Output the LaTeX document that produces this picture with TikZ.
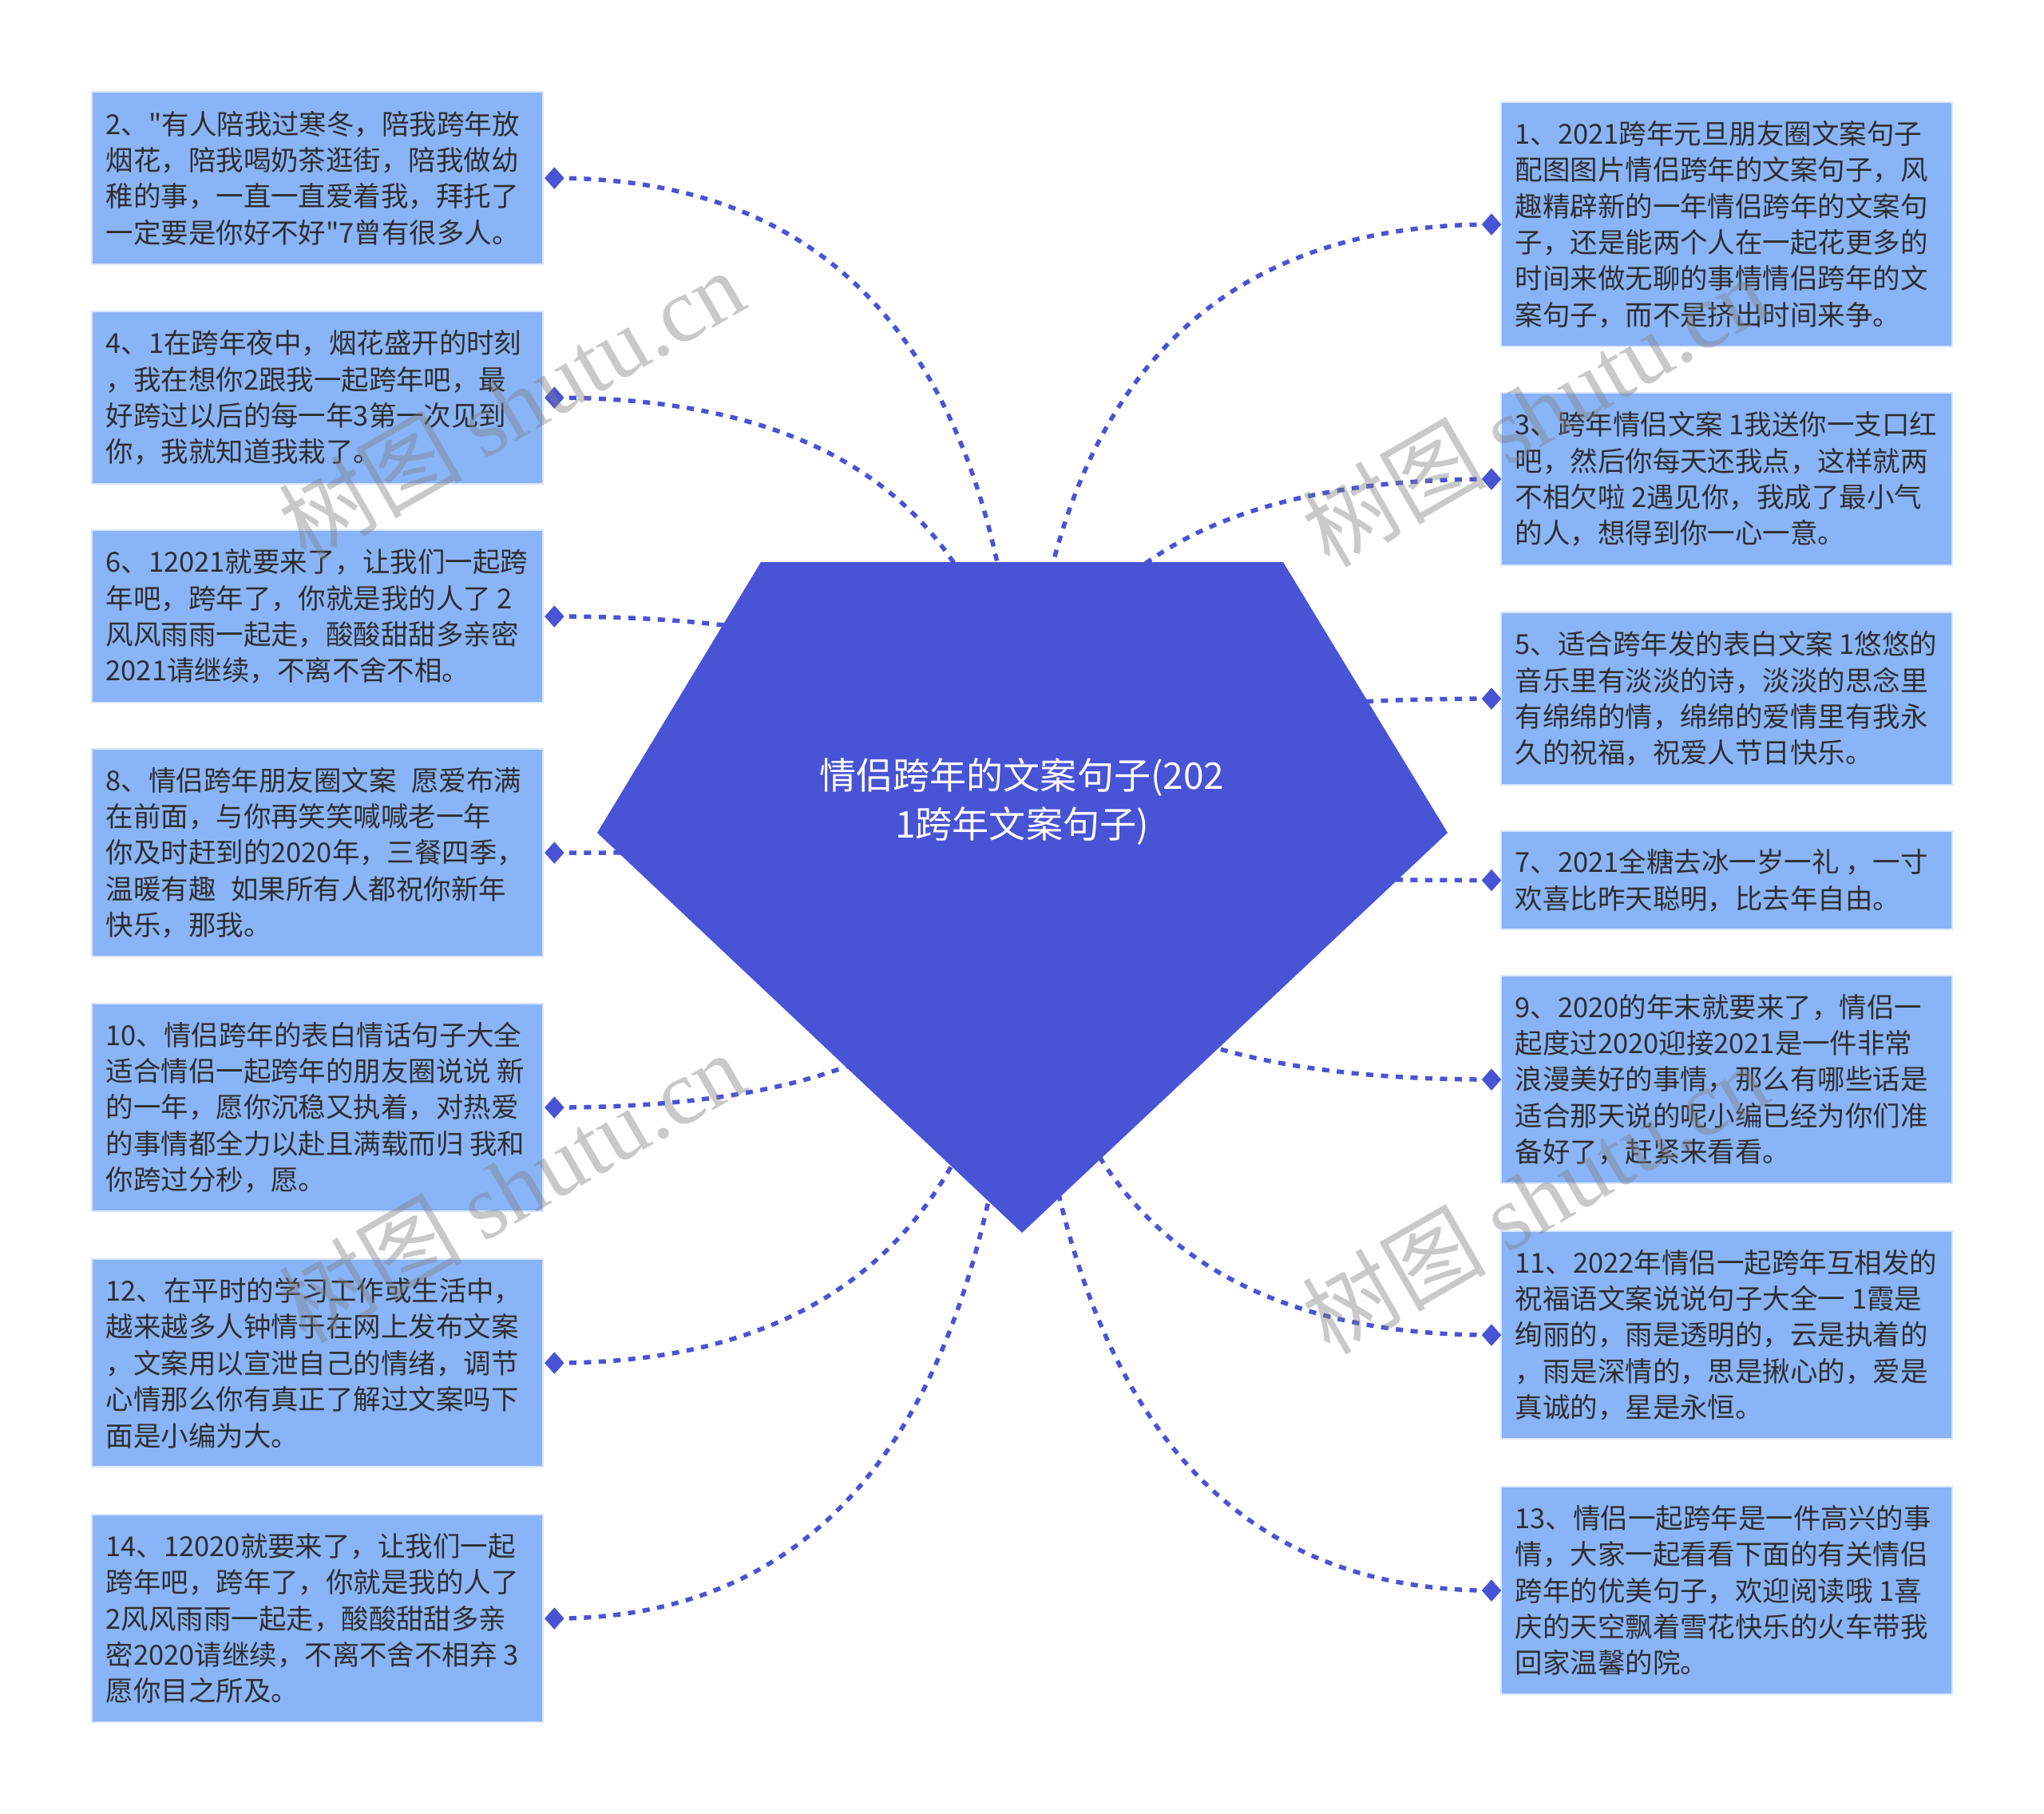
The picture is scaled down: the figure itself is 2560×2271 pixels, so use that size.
\documentclass[tikz,border=0pt]{standalone}
\usepackage{fontspec}
\setmainfont{Noto Sans CJK SC}[Ligatures=TeXOff]
\newfontfamily\wmserif{Liberation Serif}
\usetikzlibrary{shapes.misc,shapes.geometric,calc,backgrounds}
\definecolor{hubblue}{HTML}{4853D5}
\definecolor{boxblue}{HTML}{8AB4F8}
\definecolor{boxedge}{HTML}{D9E6FC}
\definecolor{txt}{HTML}{2E2E2E}
\begin{document}
\begin{tikzpicture}[x=0.01cm,y=-0.01cm,
  card/.style={chamfered rectangle, chamfered rectangle corners=north east,
    chamfered rectangle xsep=0.17cm, chamfered rectangle ysep=0.17cm,
    fill=boxblue, draw=boxedge, line width=0.02cm, inner sep=0pt,
    minimum width=5.65cm, anchor=north west},
  cardtext/.style={anchor=west, align=left, inner sep=0pt, text=txt,
    font=\fontsize{9.8pt}{12.9pt}\selectfont},
  tip/.style={diamond, fill=hubblue, inner sep=0pt, minimum width=0.25cm, minimum height=0.28cm},
  conn/.style={draw=hubblue, line width=0.055cm, dash pattern=on 0.09cm off 0.095cm},
  wm/.style={text=black!50, opacity=0.42, rotate=30, inner sep=0pt,
    font=\fontsize{32.7pt}{36pt}\selectfont}
]
\useasboundingbox (0,0) rectangle (2560,2271);
\coordinate (hub) at (1281,1043);

% central pentagon
\fill[hubblue] (953,704) -- (1607,704) -- (1813,1043) -- (1280,1544) -- (748,1043) -- cycle;
\node[text=white, align=center, inner sep=0pt, font=\fontsize{13.1pt}{17.6pt}\selectfont] (root) at (1280,1004) {情侣跨年的文案句子(202\\1跨年文案句子)};

% left column
\node[card, minimum height=2.16cm] (b2) at (114,114) {};
\node[cardtext] (t2) at ([xshift=0.18cm]b2.west) {2、"有人陪我过寒冬，陪我跨年放\\烟花，陪我喝奶茶逛街，陪我做幼\\稚的事，一直一直爱着我，拜托了\\一定要是你好不好"7曾有很多人。};
\node[card, minimum height=2.16cm] (b4) at (114,389) {};
\node[cardtext] (t4) at ([xshift=0.18cm]b4.west) {4、1在跨年夜中，烟花盛开的时刻\\，我在想你2跟我一起跨年吧，最\\好跨过以后的每一年3第一次见到\\你，我就知道我栽了。};
\node[card, minimum height=2.16cm] (b6) at (114,663) {};
\node[cardtext] (t6) at ([xshift=0.18cm]b6.west) {6、12021就要来了，让我们一起跨\\年吧，跨年了，你就是我的人了 2\\风风雨雨一起走，酸酸甜甜多亲密\\2021请继续，不离不舍不相。};
\node[card, minimum height=2.60cm] (b8) at (114,937) {};
\node[cardtext] (t8) at ([xshift=0.18cm]b8.west) {8、情侣跨年朋友圈文案\hspace{0.55em}愿爱布满\\在前面，与你再笑笑喊喊老一年\\你及时赶到的2020年，三餐四季，\\温暖有趣\hspace{0.55em}如果所有人都祝你新年\\快乐，那我。};
\node[card, minimum height=2.60cm] (b10) at (114,1256) {};
\node[cardtext] (t10) at ([xshift=0.18cm]b10.west) {10、情侣跨年的表白情话句子大全\\适合情侣一起跨年的朋友圈说说 新\\的一年，愿你沉稳又执着，对热爱\\的事情都全力以赴且满载而归 我和\\你跨过分秒，愿。};
\node[card, minimum height=2.60cm] (b12) at (114,1576) {};
\node[cardtext] (t12) at ([xshift=0.18cm]b12.west) {12、在平时的学习工作或生活中，\\越来越多人钟情于在网上发布文案\\，文案用以宣泄自己的情绪，调节\\心情那么你有真正了解过文案吗下\\面是小编为大。};
\node[card, minimum height=2.60cm] (b14) at (114,1896) {};
\node[cardtext] (t14) at ([xshift=0.18cm]b14.west) {14、12020就要来了，让我们一起\\跨年吧，跨年了，你就是我的人了\\2风风雨雨一起走，酸酸甜甜多亲\\密2020请继续，不离不舍不相弃 3\\愿你目之所及。};

% right column
\node[card, minimum height=3.06cm] (b1) at (1879,127) {};
\node[cardtext] (t1) at ([xshift=0.18cm]b1.west) {1、2021跨年元旦朋友圈文案句子\\配图图片情侣跨年的文案句子，风\\趣精辟新的一年情侣跨年的文案句\\子，还是能两个人在一起花更多的\\时间来做无聊的事情情侣跨年的文\\案句子，而不是挤出时间来争。};
\node[card, minimum height=2.16cm] (b3) at (1879,491) {};
\node[cardtext] (t3) at ([xshift=0.18cm]b3.west) {3、跨年情侣文案 1我送你一支口红\\吧，然后你每天还我点，这样就两\\不相欠啦 2遇见你，我成了最小气\\的人，想得到你一心一意。};
\node[card, minimum height=2.16cm] (b5) at (1879,766) {};
\node[cardtext] (t5) at ([xshift=0.18cm]b5.west) {5、适合跨年发的表白文案 1悠悠的\\音乐里有淡淡的诗，淡淡的思念里\\有绵绵的情，绵绵的爱情里有我永\\久的祝福，祝爱人节日快乐。};
\node[card, minimum height=1.23cm] (b7) at (1879,1040) {};
\node[cardtext] (t7) at ([xshift=0.18cm]b7.west) {7、2021全糖去冰一岁一礼 ，一寸\\欢喜比昨天聪明，比去年自由。};
\node[card, minimum height=2.60cm] (b9) at (1879,1221) {};
\node[cardtext] (t9) at ([xshift=0.18cm]b9.west) {9、2020的年末就要来了，情侣一\\起度过2020迎接2021是一件非常\\浪漫美好的事情，那么有哪些话是\\适合那天说的呢小编已经为你们准\\备好了，赶紧来看看。};
\node[card, minimum height=2.60cm] (b11) at (1879,1541) {};
\node[cardtext] (t11) at ([xshift=0.18cm]b11.west) {11、2022年情侣一起跨年互相发的\\祝福语文案说说句子大全一 1霞是\\绚丽的，雨是透明的，云是执着的\\，雨是深情的，思是揪心的，爱是\\真诚的，星是永恒。};
\node[card, minimum height=2.60cm] (b13) at (1879,1861) {};
\node[cardtext] (t13) at ([xshift=0.18cm]b13.west) {13、情侣一起跨年是一件高兴的事\\情，大家一起看看下面的有关情侣\\跨年的优美句子，欢迎阅读哦 1喜\\庆的天空飘着雪花快乐的火车带我\\回家温馨的院。};

% diamond tips
\foreach \n in {2,4,6,8,10,12,14} {\node[tip] (d\n) at ([xshift=0.13cm]b\n.east) {};}
\foreach \n in {1,3,5,7,9,11,13} {\node[tip] (d\n) at ([xshift=-0.11cm]b\n.west) {};}

% connectors
\begin{scope}[on background layer]
\fill[white] (0,0) rectangle (2560,2271);
\foreach \n in {1,...,14} {
  \coordinate (k\n) at (d\n -| hub);
  \draw[conn] (d\n.center) .. controls ($(d\n.center)!0.6667!(k\n)$) and ($(hub)!0.6667!(k\n)$) .. (hub);
}
\end{scope}

% watermarks
\node[wm] (w1) at (640,506) {树图 {\wmserif shutu.cn}};
\node[wm] (w2) at (640,1486) {树图 {\wmserif shutu.cn}};
\node[wm] (w3) at (1922,514) {树图 {\wmserif shutu.cn}};
\node[wm] (w4) at (1922,1500) {树图 {\wmserif shutu.cn}};
\end{tikzpicture}
\end{document}
